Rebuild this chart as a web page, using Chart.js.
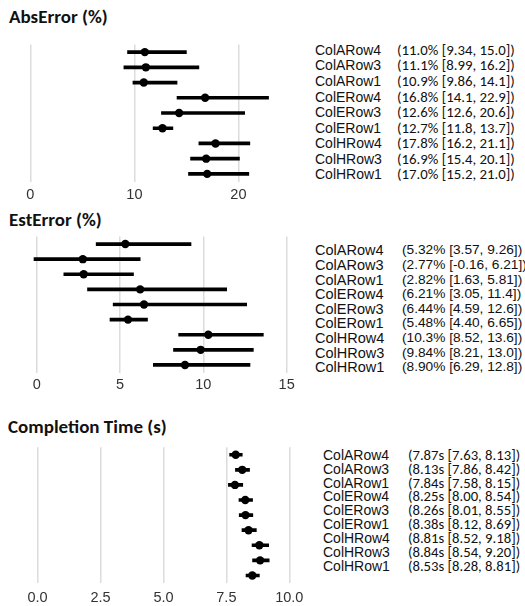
<!DOCTYPE html>
<html>
<head>
<meta charset="utf-8">
<script src="https://cdn.jsdelivr.net/npm/chart.js@4.4.1/dist/chart.umd.min.js"></script>
<style>
  html, body { margin:0; padding:0; background:#fff; width:525px; height:606px; overflow:hidden; position:relative; }
  canvas { position:absolute; left:0; }
  .title { position:absolute; font-family: Carlito, Lato, sans-serif; font-weight:700; font-size:19px; color:#111; white-space:nowrap; line-height:24px; height:24px; }
  .lab { position:absolute; white-space:nowrap; color:#111; }
</style>
</head>
<body>
<div class="title" style="left:9px; top:5px;">AbsError (%)</div>
<div class="title" style="left:9px; top:208px;">EstError (%)</div>
<div class="title" style="left:8px; top:415px;">Completion Time (s)</div>
<canvas id="c1" width="300" height="169" style="top:40px;"></canvas>
<canvas id="c2" width="305" height="166" style="top:232px;"></canvas>
<canvas id="c3" width="310" height="170" style="top:443px;"></canvas>
<div id="texts"></div>
<script>
// ---- data ----
const rows = ['ColARow4','ColARow3','ColARow1','ColERow4','ColERow3','ColERow1','ColHRow4','ColHRow3','ColHRow1'];

const absEst = [11.0, 11.1, 10.9, 16.8, 14.3, 12.7, 17.8, 16.9, 17.0];
const absLo  = [9.34, 8.99, 9.86, 14.1, 12.6, 11.8, 16.2, 15.4, 15.2];
const absHi  = [15.0, 16.2, 14.1, 22.9, 20.6, 13.7, 21.1, 20.1, 21.0];
const absText = ['(11.0% [9.34, 15.0])','(11.1% [8.99, 16.2])','(10.9% [9.86, 14.1])','(16.8% [14.1, 22.9])','(12.6% [12.6, 20.6])','(12.7% [11.8, 13.7])','(17.8% [16.2, 21.1])','(16.9% [15.4, 20.1])','(17.0% [15.2, 21.0])'];
const absTicks = [0, 10, 20];

const estEst = [5.32, 2.77, 2.82, 6.21, 6.44, 5.48, 10.3, 9.84, 8.90];
const estLo  = [3.57, -0.16, 1.63, 3.05, 4.59, 4.40, 8.52, 8.21, 7.0];
const estHi  = [9.26, 6.21, 5.81, 11.4, 12.6, 6.65, 13.6, 13.0, 12.8];
const estText = ['(5.32% [3.57, 9.26])','(2.77% [-0.16, 6.21])','(2.82% [1.63, 5.81])','(6.21% [3.05, 11.4])','(6.44% [4.59, 12.6])','(5.48% [4.40, 6.65])','(10.3% [8.52, 13.6])','(9.84% [8.21, 13.0])','(8.90% [6.29, 12.8])'];
const estTicks = [0, 5, 10, 15];

const timeEst = [7.87, 8.13, 7.84, 8.25, 8.26, 8.38, 8.81, 8.84, 8.53];
const timeLo  = [7.63, 7.86, 7.58, 8.00, 8.01, 8.12, 8.52, 8.54, 8.28];
const timeHi  = [8.13, 8.42, 8.15, 8.54, 8.55, 8.69, 9.18, 9.20, 8.81];
const timeText = ['(7.87s [7.63, 8.13])','(8.13s [7.86, 8.42])','(7.84s [7.58, 8.15])','(8.25s [8.00, 8.54])','(8.26s [8.01, 8.55])','(8.38s [8.12, 8.69])','(8.81s [8.52, 9.18])','(8.84s [8.54, 9.20])','(8.53s [8.28, 8.81])'];
const timeTicks = [0, 2.5, 5, 7.5, 10];

// ---- charts ----
function makeChart(id, est, lo, hi, ticks, fmt, xmin, xmax, pad, tickPad) {
  new Chart(document.getElementById(id), {
    type: 'bar',
    data: {
      labels: rows,
      datasets: [
        { type:'line', order:0, data: rows.map((r,i)=>({x: est[i], y: r})), showLine:false,
          pointRadius:4.2, pointBackgroundColor:'#000', pointBorderWidth:0, pointBorderColor:'#000' },
        { type:'bar', order:1, data: rows.map((r,i)=>[lo[i], hi[i]]), backgroundColor:'#000',
          barThickness:3, borderWidth:0, borderSkipped:false }
      ]
    },
    options: {
      indexAxis: 'y',
      responsive: false,
      animation: false,
      layout: { padding: pad },
      plugins: { legend:{display:false}, tooltip:{enabled:false} },
      scales: {
        y: { type:'category', display:false, offset:true },
        x: {
          type:'linear', min:xmin, max:xmax,
          afterBuildTicks: s => { s.ticks = ticks.map(v=>({value:v})); },
          ticks: { callback: v => fmt(v), color:'#333', font:{family:'"Liberation Sans", Arial, sans-serif', size:14.5}, padding:tickPad, maxRotation:0 },
          grid: { color:'#dcdcdc', lineWidth:1.5, drawTicks:false },
          border: { display:false }
        }
      }
    }
  });
}
makeChart('c1', absEst, absLo, absHi, absTicks, v=>String(v), -1, 24, {left:20, right:20, top:4.5, bottom:0.5}, 4.8);
makeChart('c2', estEst, estLo, estHi, estTicks, v=>String(v), -1, 15.8, {left:20, right:5, top:4.5, bottom:0.5}, 3.8);
makeChart('c3', timeEst, timeLo, timeHi, timeTicks, v=>v.toFixed(1), -0.6, 10.6, {left:22.5, right:5.2, top:4, bottom:0}, 6.3);

// ---- right-hand text columns ----
const host = document.getElementById('texts');
function column(items, x, firstCenter, step, font, size) {
  items.forEach((t,i)=>{
    const d = document.createElement('div');
    d.className = 'lab';
    d.textContent = t;
    d.style.left = x + 'px';
    d.style.top = (firstCenter + i*step - step/2) + 'px';
    d.style.height = step + 'px';
    d.style.lineHeight = step + 'px';
    d.style.fontFamily = font;
    d.style.fontSize = size + 'px';
    host.appendChild(d);
  });
}
const ARIAL = '"Liberation Sans", Arial, sans-serif';
const CALI = 'Carlito, Lato, sans-serif';
column(rows, 315, 50.7, 15.55, ARIAL, 14);
column(absText, 397, 50.7, 15.55, CALI, 14.8);
column(rows, 315, 250.7, 14.6, ARIAL, 14.5);
column(estText, 402, 250.7, 14.6, ARIAL, 13.7);
column(rows, 323, 455.7, 13.9, ARIAL, 14);
column(timeText, 408, 455.7, 13.9, CALI, 14.7);
</script>
</body>
</html>
